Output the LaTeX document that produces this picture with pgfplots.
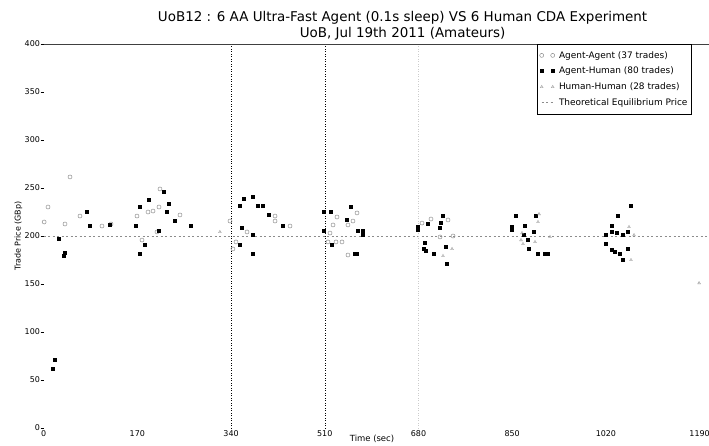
\documentclass[border=0pt]{standalone}
\usepackage{pgfplots}
\pgfplotsset{compat=1.18}
\usepackage{fontspec}
\setmainfont{DejaVu Sans}
\pgfplotsset{
  twomarks/.style={legend image code/.code={\draw[##1, only marks] plot coordinates {(0bp,0bp) (11bp,0bp)}; \path (15bp,0bp);}},
  lineleg/.style={legend image code/.code={\draw[##1] (0bp,0bp) -- (11bp,0bp); \path (15bp,0bp);}},
}
\begin{document}
\begin{tikzpicture}[x=1bp,y=1bp]
\begin{axis}[
  at={(0,0)}, anchor=south west,
  scale only axis, width=665.4bp, height=384bp,
  xmin=0, xmax=1207, ymin=0, ymax=400,
  axis line style={draw=none},
  xtick={0,170,340,510,680,850,1020,1190},
  ytick={0,50,100,150,200,250,300,350,400},
  xtick pos=bottom, ytick pos=left,
  xtick style={draw=none},
  ytick style={black, line width=0.4pt},
  tick align=outside, major tick length=3bp,
  ticklabel style={font=\fontsize{8}{9}\selectfont},
  /pgf/number format/assume math mode=true,
  /pgf/number format/1000 sep={},
  xticklabel style={anchor=north, inner sep=0pt, yshift=1bp},
  yticklabel style={anchor=east, inner sep=0pt, xshift=-0.5bp},
  clip=false,
  legend style={at={(axis description cs:0.974,1)}, anchor=north east,
    draw=black, line width=0.5pt, font=\fontsize{9}{10}\selectfont,
    inner xsep=2bp, inner ysep=5bp, row sep=3.5bp},
  legend cell align=left,
]
\addplot[only marks, mark=o, mark size=2bp, draw=black!45, mark options={line width=0.5pt}, twomarks]
coordinates {
(47.9,261.5) (8,230.2) (1,214.6) (38.8,212.5) (66,220.8) (105.9,210.4) (122.3,212.5)
(169.4,220.8) (189.4,225) (198.5,226) (209.3,230.2) (211.1,249) (247.4,221.9) (205.7,204.2) (178.5,195.8)
(338.1,215.6) (369,204.2) (349,193.8) (343.5,186.5) (419.8,220.8) (419.8,215.6) (447,210.4)
(532.2,219.8) (525,211.5) (519.5,203.1) (515.9,193.8) (530.4,193.8) (541.3,193.8) (561.2,215.6) (568.5,224) (552.1,211.5) (552.1,180.2)
(686.4,213.5) (702.7,217.7) (733.6,216.7) (719.1,199) (742.7,200)
};
\addlegendentry{Agent-Agent (37 trades)}
\addplot[only marks, mark=square*, mark size=1.5bp, black, twomarks]
coordinates {
(20.7,70.8) (17.1,61.5) (27.9,196.9) (38.8,182.3) (37,179) (78.7,225) (84.2,210.4) (120.4,211.5)
(167.6,210.4) (174.9,230.2) (191.2,237.5) (218.4,245.8) (227.5,233.3) (223.8,225) (238.3,215.6) (267.4,210.4) (209.3,205.2) (184,190.6) (174.9,181.3)
(356.3,231.3) (363.5,238.5) (379.8,240.6) (388.9,231.3) (398,231.3) (408.9,221.9) (434.3,210.4) (359.9,208.3) (379.8,201) (356.3,190.6) (379.8,181.3)
(508.4,225) (521.1,225) (508.4,205.2) (523,190.6) (550.3,216.7) (557.6,230.2) (570.3,205.2) (579.4,205.2) (579.4,201) (568.5,181.3) (564.8,181.3)
(679.1,209.4) (679.1,206.3) (697.3,212.5) (719.1,208.3) (720.9,213.5) (724.5,220.8) (691.8,192.7) (690,186.5) (693.6,184.4) (708.2,181.3) (730,188.5) (731.8,170.8)
(849.6,206.3) (849.6,209.4) (856.9,220.8) (873.2,210.4) (893.2,220.8) (889.5,204.2) (871.4,201) (878.7,195.8) (880.5,186.5) (896.8,181.3) (909.5,181.3) (915,181.3)
(1065.5,231.3) (1041.9,220.8) (1031,210.4) (1031,204.2) (1020.2,201) (1040.1,203.1) (1051,201) (1060.1,204.2) (1020.2,191.7) (1031,185.4) (1036.4,183.3) (1045.5,181.3) (1060.1,186.5) (1051,175)
};
\addlegendentry{Agent-Human (80 trades)}
\addplot[only marks, mark=triangle, mark size=1.6bp, draw=black!40, mark options={line width=0.4pt}, twomarks]
coordinates {
(319.8,204.2) (724.5,179.2) (740.9,186.5) (898.7,222.9) (896.8,214.6) (867.8,203.1) (866,195.8)
(891.4,193.8) (869.6,191.7) (918.6,199) (1061.9,209.4) (1071,201) (1065.5,175) (1189,151)
};
\addlegendentry{Human-Human (28 trades)}
\addplot[black!45, line width=0.6pt, dash pattern=on 2bp off 2.5bp, lineleg]
coordinates {(0,200) (1207,200)};
\addlegendentry{Theoretical Equilibrium Price}
\draw[black, line width=0.5pt, dotted] (axis cs:340,0) -- (axis cs:340,400);
\draw[black, line width=0.5pt, dotted] (axis cs:510,0) -- (axis cs:510,400);
\draw[black!20, line width=0.5pt, dotted] (axis cs:680,0) -- (axis cs:680,400);
\draw[black!75, line width=0.6pt] (rel axis cs:0,1) -- (rel axis cs:1,1);
\end{axis}
\node[anchor=base, font=\fontsize{13.5}{15}\selectfont] at (359bp,406bp) {UoB12 : 6 AA Ultra-Fast Agent (0.1s sleep) VS 6 Human CDA Experiment};
\node[anchor=base, font=\fontsize{13.5}{15}\selectfont] at (359bp,390bp) {UoB, Jul 19th 2011 (Amateurs)};
\node[anchor=base, font=\fontsize{8.5}{10}\selectfont] at (328.4bp,-13bp) {Time (sec)};
\node[anchor=base, rotate=90, font=\fontsize{8}{10}\selectfont] at (-23bp,192bp) {Trade Price (GBp)};
\pgfresetboundingbox
\path (-43.6bp,-18bp) rectangle (665.4bp,428bp);
\end{tikzpicture}
\end{document}
